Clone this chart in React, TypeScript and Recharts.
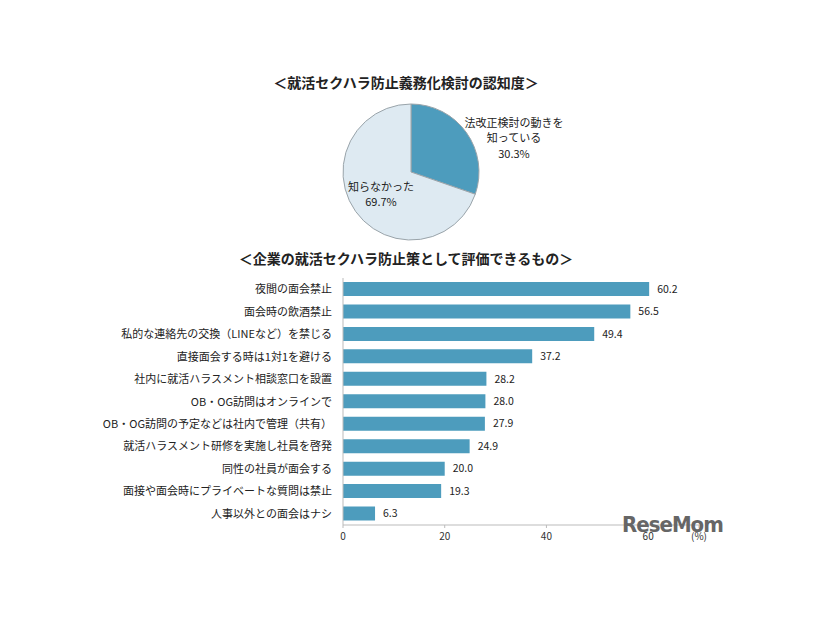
import React from 'react';
import { PieChart, Pie, Cell, BarChart, Bar, XAxis, YAxis, LabelList } from 'recharts';

const pieNames = ['法改正検討の動きを知っている', '知らなかった'];
const pieValues = [30.3, 69.7];

const measures = [
  '夜間の面会禁止',
  '面会時の飲酒禁止',
  '私的な連絡先の交換（LINEなど）を禁じる',
  '直接面会する時は1対1を避ける',
  '社内に就活ハラスメント相談窓口を設置',
  'OB・OG訪問はオンラインで',
  'OB・OG訪問の予定などは社内で管理（共有）',
  '就活ハラスメント研修を実施し社員を啓発',
  '同性の社員が面会する',
  '面接や面会時にプライベートな質問は禁止',
  '人事以外との面会はナシ',
];
const measureValues = [60.2, 56.5, 49.4, 37.2, 28.2, 28.0, 27.9, 24.9, 20.0, 19.3, 6.3];
const xTicks = [0, 20, 40, 60, 70];

const FONT = '"Noto Sans CJK JP", "Noto Sans", sans-serif';
const BLUE = '#4d9cbd';
const LIGHT = '#deeaf2';

const pieData = pieNames.map((name, i) => ({ name, value: pieValues[i] }));
const barData = measures.map((name, i) => ({ name, value: measureValues[i] }));

const pieLabel = (props: any) => {
  const { cx, cy, index, percent } = props;
  const pct = (percent * 100).toFixed(1) + '%';
  if (index === 0) {
    const x = cx + 103;
    return (
      <text x={x} y={cy - 45} textAnchor="middle" fontSize={11} fill="#222" fontFamily={FONT}>
        <tspan x={x} dy={0}>法改正検討の動きを</tspan>
        <tspan x={x} dy={15}>知っている</tspan>
        <tspan x={x} dy={16}>{pct}</tspan>
      </text>
    );
  }
  const x = cx - 30;
  return (
    <text x={x} y={cy + 19} textAnchor="middle" fontSize={11} fill="#222" fontFamily={FONT}>
      <tspan x={x} dy={0}>知らなかった</tspan>
      <tspan x={x} dy={15}>{pct}</tspan>
    </text>
  );
};

const YTick = (props: any) => {
  const { x, y, payload } = props;
  return (
    <text x={x - 3} y={y} dy={4} textAnchor="end" fontSize={11} fill="#222" fontFamily={FONT}>
      {payload.value}
    </text>
  );
};

export default function App() {
  return (
    <div style={{ position: 'absolute', left: 0, top: 0, width: 826, height: 620, background: '#fff', fontFamily: FONT }}>
      <div style={{ position: 'absolute', left: 0, width: 812, top: 72, textAlign: 'center', fontSize: 14, fontWeight: 700, color: '#222' }}>
        ＜就活セクハラ防止義務化検討の認知度＞
      </div>
      <div style={{ position: 'absolute', left: 206, top: 72 }}>
        <PieChart width={400} height={170}>
          <Pie
            data={pieData}
            dataKey="value"
            nameKey="name"
            cx={200}
            cy={95}
            outerRadius={68}
            startAngle={90}
            endAngle={-270}
            stroke="#9aa4aa"
            strokeWidth={1}
            label={pieLabel}
            labelLine={false}
            isAnimationActive={false}
          >
            <Cell fill={BLUE} />
            <Cell fill={LIGHT} />
          </Pie>
        </PieChart>
      </div>
      <div style={{ position: 'absolute', left: 0, width: 812, top: 248, textAlign: 'center', fontSize: 14, fontWeight: 700, color: '#222' }}>
        ＜企業の就活セクハラ防止策として評価できるもの＞
      </div>
      <div style={{ position: 'absolute', left: 100, top: 270 }}>
        <BarChart
          width={620}
          height={285}
          data={barData}
          layout="vertical"
          margin={{ top: 8, right: 21, bottom: 0, left: 0 }}
          barCategoryGap={4}
        >
          <XAxis
            type="number"
            domain={[0, 70]}
            ticks={xTicks}
            tickFormatter={(v: number) => (v === 70 ? '(%)' : String(v))}
            tick={{ fontSize: 10, fill: '#333', fontFamily: FONT }}
            stroke="#bbb"
            tickSize={3}
            tickMargin={5}
            height={30}
          />
          <YAxis
            type="category"
            dataKey="name"
            width={243}
            tick={<YTick />}
            tickLine={false}
            stroke="#bbb"
            interval={0}
          />
          <Bar dataKey="value" fill={BLUE} barSize={14} isAnimationActive={false}>
            <LabelList
              dataKey="value"
              position="right"
              offset={8}
              formatter={(v: number) => v.toFixed(1)}
              style={{ fontSize: 10.5, fill: '#222', fontFamily: FONT }}
            />
          </Bar>
        </BarChart>
      </div>
      <div style={{ position: 'absolute', left: 622, top: 512, fontSize: 22, fontWeight: 700, color: '#666', fontFamily: '"DejaVu Sans Condensed", "DejaVu Sans", sans-serif', letterSpacing: -1 }}>
        ReseMom
      </div>
    </div>
  );
}
